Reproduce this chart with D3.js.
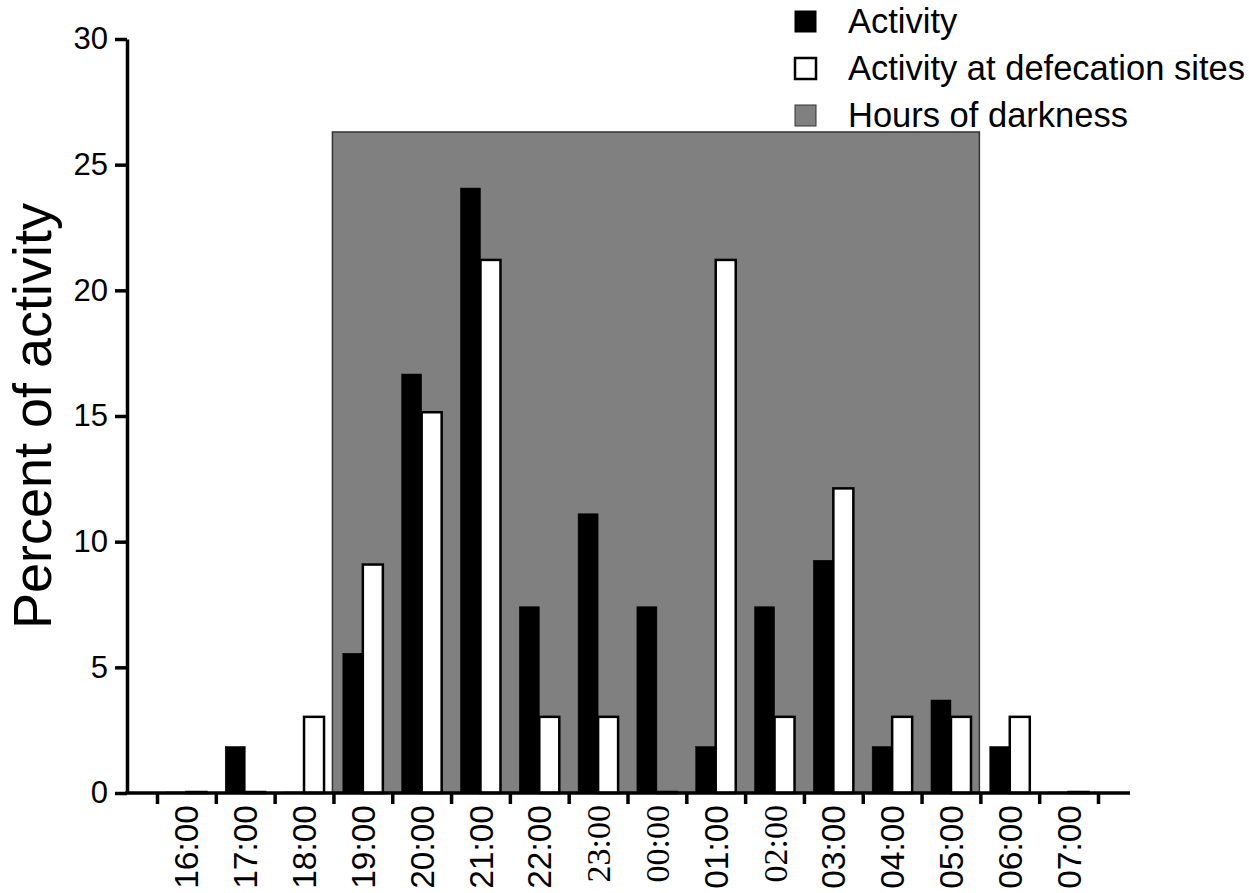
<!DOCTYPE html>
<html>
<head>
<meta charset="utf-8">
<script src="https://cdn.jsdelivr.net/npm/d3@7"></script>
<style>
  body { margin: 0; background: #fff; }
  svg { display: block; font-family: "Liberation Sans", Arial, Helvetica, sans-serif; }
  .axis path, .axis line { stroke: #000; stroke-width: 3.5; }
  .axis text { fill: #000; font-size: 31px; }
</style>
</head>
<body>
<div id="chart-area"><svg></svg></div>
<script>
const hours = ['16:00', '17:00', '18:00', '19:00', '20:00', '21:00', '22:00', '23:00',
    '00:00', '01:00', '02:00', '03:00', '04:00', '05:00', '06:00', '07:00'];
const serifHours = ['23:00', '00:00', '02:00'];
const activity = [0, 1.85, 0, 5.56, 16.67, 24.07, 7.41, 11.11, 7.41, 1.85, 7.41, 9.26, 1.85, 3.7, 1.85, 0];
const defecation = [0, 0, 3.03, 9.09, 15.15, 21.21, 3.03, 3.03, 0, 21.21, 3.03, 12.12, 3.03, 3.03, 3.03, 0];
const darkness = { from: '19:00', to: '05:00', top: 26.3 };
const yTicks = [0, 5, 10, 15, 20, 25, 30];
const seriesNames = ['Activity', 'Activity at defecation sites'];
const legendItems = ['Activity', 'Activity at defecation sites', 'Hours of darkness'];

const chartSize = { width: 1249, height: 893 };
const plot = { left: 127, right: 1130, top: 39, bottom: 793, bandLeft: 157, bandRight: 1098 };

const drawChart = () => {
    const svg = d3.select('#chart-area svg')
        .attr('width', chartSize.width)
        .attr('height', chartSize.height);

    const x = d3.scaleBand()
        .domain(hours)
        .range([plot.bandLeft, plot.bandRight])
        .padding(0);

    const xEdge = d3.scaleLinear()
        .domain([0, hours.length])
        .range([plot.bandLeft, plot.bandRight]);

    const x1 = d3.scaleBand()
        .domain(seriesNames)
        .range([0, x.bandwidth()])
        .paddingInner(0)
        .paddingOuter(0.47);

    const y = d3.scaleLinear()
        .domain([0, 30])
        .range([plot.bottom, plot.top]);

    // hours of darkness
    svg.append('rect')
        .attr('x', x(darkness.from) - 1)
        .attr('y', y(darkness.top))
        .attr('width', x(darkness.to) + x.bandwidth() - x(darkness.from))
        .attr('height', y(0) - y(darkness.top))
        .attr('fill', '#808080')
        .attr('stroke', '#333')
        .attr('stroke-width', 1.5);

    const rows = hours.map((h, i) => ({ hour: h, values: [activity[i], defecation[i]] }));

    const group = svg.selectAll('.hour')
        .data(rows)
        .enter()
        .append('g')
        .attr('class', 'hour')
        .attr('transform', d => `translate(${x(d.hour)},0)`);

    // zero values still show the outline as a flat bar
    group.selectAll('rect')
        .data(d => d.values.map((v, k) => ({ name: seriesNames[k], value: v })))
        .enter()
        .append('rect')
        .attr('x', d => x1(d.name))
        .attr('y', d => Math.min(y(d.value), y(0) - 1))
        .attr('width', x1.bandwidth())
        .attr('height', d => Math.max(y(0) - y(d.value), 1))
        .attr('fill', d => d.name == 'Activity' ? '#000' : '#fff')
        .attr('stroke', '#000')
        .attr('stroke-width', d => d.name == 'Activity' ? 0.5 : 2.5);

    // y axis
    const y_axis = d3.axisLeft(y)
        .tickValues(yTicks)
        .tickSize(12)
        .tickSizeOuter(0)
        .tickPadding(7);

    svg.append('g')
        .attr('class', 'axis y-axis')
        .attr('transform', `translate(${plot.left},0)`)
        .call(y_axis);

    // x axis: ticks at band edges
    const x_axis = d3.axisBottom(xEdge)
        .tickValues(d3.range(0, hours.length + 1))
        .tickFormat('')
        .tickSize(11)
        .tickSizeOuter(0);

    const xg = svg.append('g')
        .attr('class', 'axis x-axis')
        .attr('transform', `translate(0,${plot.bottom})`)
        .call(x_axis);
    xg.select('.domain').remove();

    svg.append('line')
        .attr('x1', plot.left - 1.75)
        .attr('x2', plot.right)
        .attr('y1', plot.bottom)
        .attr('y2', plot.bottom)
        .attr('stroke', '#000')
        .attr('stroke-width', 3.5);

    svg.selectAll('.x-label')
        .data(hours)
        .enter()
        .append('text')
        .attr('class', 'x-label')
        .attr('transform', h => `translate(${x(h) + x.bandwidth() / 2},${plot.bottom + 12}) rotate(-90)`)
        .attr('dy', '0.36em')
        .attr('text-anchor', 'end')
        .style('font-family', h => serifHours.includes(h) ? '"Liberation Serif", "Times New Roman", serif' : null)
        .style('font-size', h => serifHours.includes(h) ? '34px' : '33.5px')
        .text(h => h);

    // y label
    svg.append('text')
        .attr('transform', `translate(51,${(plot.top + plot.bottom) / 2}) rotate(-90)`)
        .attr('text-anchor', 'middle')
        .style('font-size', '54px')
        .text('Percent of activity');

    // legend
    const legend = svg.selectAll('.legend')
        .data(legendItems)
        .enter()
        .append('g')
        .attr('class', 'legend')
        .attr('transform', (d, i) => `translate(795,${21 + i * 47})`);

    legend.append('rect')
        .attr('x', 0)
        .attr('y', -10)
        .attr('width', 21)
        .attr('height', 21)
        .attr('fill', (d, i) => ['#000', '#fff', '#808080'][i])
        .attr('stroke', (d, i) => i == 2 ? '#333' : '#000')
        .attr('stroke-width', (d, i) => i == 1 ? 2.5 : 1);

    legend.append('text')
        .attr('x', 53)
        .attr('dy', '0.36em')
        .style('font-size', '34.5px')
        .text(d => d);
};

window.onload = drawChart;
</script>
</body>
</html>
